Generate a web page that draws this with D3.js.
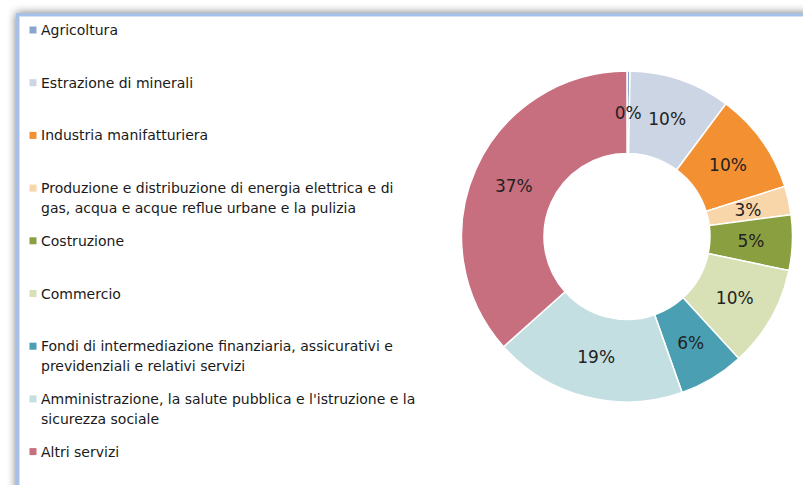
<!DOCTYPE html>
<html><head><meta charset="utf-8">
<script src="https://cdn.jsdelivr.net/npm/d3@7"></script>
<style>html,body{margin:0;padding:0;background:#fff;overflow:hidden}</style>
</head><body>
<svg id="c" width="803" height="485"></svg>
<script>
const categories = [
  ["Agricoltura"],
  ["Estrazione di minerali"],
  ["Industria manifatturiera"],
  ["Produzione e distribuzione di energia elettrica e di", "gas, acqua e acque reflue urbane e la pulizia"],
  ["Costruzione"],
  ["Commercio"],
  ["Fondi di intermediazione finanziaria, assicurativi e", "previdenziali e relativi servizi"],
  ["Amministrazione, la salute pubblica e l'istruzione e la", "sicurezza sociale"],
  ["Altri servizi"]
];
const values = [0.3, 9.9, 9.9, 2.8, 5.4, 9.9, 6.4, 18.8, 36.6];
const colors = ["#8aa5cc", "#cbd5e3", "#f39032", "#f9d5aa", "#8aa040", "#d8e1b6", "#4aa0b2", "#c4dfe2", "#c86f7f"];

const svg = d3.select("#c");
const font = "DejaVu Sans";

// frame with shadow
const defs = svg.append("defs");
const f = defs.append("filter").attr("id","sh").attr("x","-10%").attr("y","-10%").attr("width","130%").attr("height","130%");
f.append("feGaussianBlur").attr("in","SourceAlpha").attr("stdDeviation",5).attr("result","b");
f.append("feComponentTransfer").attr("in","b").attr("result","b2")
  .append("feFuncA").attr("type","linear").attr("slope",0.55);
const m = f.append("feMerge");
m.append("feMergeNode").attr("in","b2");
m.append("feMergeNode").attr("in","SourceGraphic");

svg.append("rect").attr("x",16).attr("y",13).attr("width",900).attr("height",600)
  .attr("fill","#fff").attr("filter","url(#sh)");
svg.append("rect").attr("x",17.5).attr("y",14.5).attr("width",900).attr("height",600)
  .attr("fill","none").attr("stroke","#a9c0e6").attr("stroke-width",3);
svg.append("rect").attr("x",19.5).attr("y",16.5).attr("width",900).attr("height",600)
  .attr("fill","none").attr("stroke","#d4e0f3").attr("stroke-width",1);

// legend
const step = 52.7;
const lg = svg.append("g");
categories.forEach((lines, i) => {
  const cy = 30 + i * step;
  lg.append("rect").attr("x",29.5).attr("y",cy-3.5).attr("width",7).attr("height",7).attr("fill",colors[i]);
  const t = lg.append("text").attr("x",41).attr("y",cy+5)
    .attr("font-family",font).attr("font-size",14).attr("fill","#1a1a1a");
  lines.forEach((ln, j) => t.append("tspan").attr("x",41).attr("dy", j===0?0:20).text(ln));
});

// donut
const cx = 627, cy = 236.5, R = 165.5, r = 83;
const total = d3.sum(values);
const pie = d3.pie().sort(null).value(d => d)(values);
const arc = d3.arc().innerRadius(r).outerRadius(R);
const labelArc = d3.arc().innerRadius(124).outerRadius(124);
const g = svg.append("g").attr("transform",`translate(${cx},${cy})`);
g.selectAll("path").data(pie).join("path")
  .attr("d", arc).attr("fill",(d,i)=>colors[i]).attr("stroke","#fff").attr("stroke-width",1.5);
g.selectAll("text").data(pie).join("text")
  .attr("transform", d => `translate(${labelArc.centroid(d)})`)
  .attr("text-anchor","middle").attr("dy","0.36em")
  .attr("font-family",font).attr("font-size",17).attr("fill","#222")
  .text(d => Math.round(d.value / total * 100) + "%");
</script>
</body></html>
